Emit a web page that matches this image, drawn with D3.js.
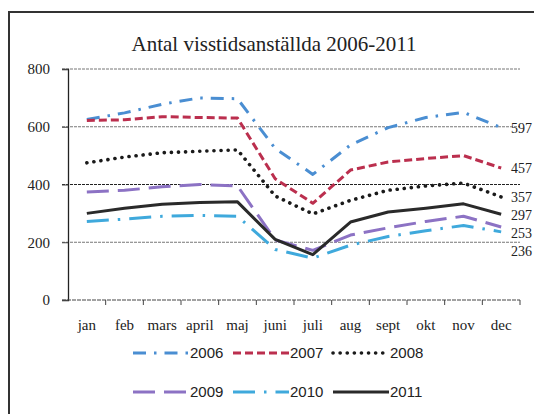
<!DOCTYPE html>
<html>
<head>
<meta charset="utf-8">
<script src="https://cdn.jsdelivr.net/npm/d3@7"></script>
<style>
  body { margin: 0; background: #fff; }
  svg { display: block; }
  .title { font-family: "Liberation Serif", serif; font-size: 21px; fill: #222; }
  .tick-label { font-family: "Liberation Serif", serif; font-size: 15px; fill: #222; }
  .end-label { font-family: "Liberation Serif", serif; font-size: 14px; fill: #222; }
  .legend-text { font-family: "Liberation Sans", sans-serif; font-size: 15px; fill: #222; }
</style>
</head>
<body>
<div id="chart"></div>
<script>
  const months = ["jan", "feb", "mars", "april", "maj", "juni", "juli", "aug", "sept", "okt", "nov", "dec"];
  const years = ["2006", "2007", "2008", "2009", "2010", "2011"];
  const yTicks = [0, 200, 400, 600, 800];

  const v2006 = [625, 648, 678, 700, 697, 525, 435, 537, 597, 632, 650, 597];
  const v2007 = [622, 624, 635, 632, 630, 420, 335, 450, 478, 490, 500, 457];
  const v2008 = [475, 495, 510, 515, 520, 360, 298, 345, 380, 395, 405, 357];
  const v2009 = [374, 380, 392, 400, 395, 208, 172, 225, 250, 272, 290, 253];
  const v2010 = [272, 280, 290, 293, 290, 175, 145, 190, 220, 240, 258, 236];
  const v2011 = [300, 318, 332, 338, 340, 210, 157, 270, 305, 318, 333, 297];

  const seriesValues = [v2006, v2007, v2008, v2009, v2010, v2011];

  const styles = [
    { color: "#4a8ed2", dash: "13,8,2.5,8", width: 3 },
    { color: "#bb2f4e", dash: "8,4", width: 3 },
    { color: "#1a1a1a", dash: "0.1,7", width: 3.6, cap: "round" },
    { color: "#8c72c4", dash: "22,9", width: 3 },
    { color: "#3fa9dc", dash: "22,9,2.5,9", width: 3 },
    { color: "#2a2a2a", dash: null, width: 3 }
  ];

  const W = 534, H = 414;

  const svg = d3.select("#chart")
    .append("svg")
      .attr("width", W)
      .attr("height", H);

  // frame of the scanned chart (right and bottom edges fall outside the picture)
  svg.append("rect")
    .attr("x", 9)
    .attr("y", 12)
    .attr("width", 600)
    .attr("height", 500)
    .attr("fill", "none")
    .attr("stroke", "#333")
    .attr("stroke-width", 2);

  svg.append("text")
    .attr("class", "title")
    .attr("x", 274)
    .attr("y", 51)
    .attr("text-anchor", "middle")
    .text("Antal visstidsanställda 2006-2011");

  const x = d3.scaleBand()
    .domain(months)
    .range([68, 520])
    .paddingInner(0)
    .paddingOuter(0);

  const y = d3.scaleLinear()
    .domain([0, 800])
    .range([300, 69]);

  // gridlines
  svg.append("g")
    .selectAll("line")
    .data(yTicks.filter(d => d > 0))
    .enter().append("line")
      .attr("x1", 62)
      .attr("x2", 520)
      .attr("y1", d => y(d))
      .attr("y2", d => y(d))
      .attr("stroke", d => d === 400 ? "#222" : "#777")
      .attr("stroke-width", 1)
      .attr("stroke-dasharray", "3,1");

  // y axis
  const yAxis = svg.append("g")
    .attr("transform", "translate(68,0)")
    .call(d3.axisLeft(y).tickValues(yTicks).tickSize(6).tickPadding(12));
  yAxis.select(".domain").attr("stroke", "#222").attr("stroke-width", 1.3);
  yAxis.selectAll(".tick line").attr("stroke", "#444");
  yAxis.selectAll(".tick text")
    .attr("class", "tick-label")
    .attr("font-family", null)
    .attr("font-size", null)
    .attr("fill", null);

  // x axis
  const xAxis = svg.append("g")
    .attr("transform", "translate(0,300)")
    .call(d3.axisBottom(x).tickSize(0).tickPadding(19));
  xAxis.select(".domain").remove();
  xAxis.selectAll(".tick text")
    .attr("class", "tick-label")
    .attr("font-family", null)
    .attr("font-size", null)
    .attr("fill", null);

  xAxis.append("line")
    .attr("x1", 62)
    .attr("x2", x.range()[1])
    .attr("stroke", "#444")
    .attr("stroke-width", 1)
    .attr("stroke-dasharray", "4,1");

  xAxis.selectAll(".bound")
    .data(months.slice(1).concat(["end"]))
    .enter().append("line")
      .attr("class", "bound")
      .attr("x1", d => d === "end" ? x.range()[1] : x(d))
      .attr("x2", d => d === "end" ? x.range()[1] : x(d))
      .attr("y1", 0)
      .attr("y2", 5)
      .attr("stroke", "#444");

  const line = d3.line()
    .x((d, i) => x(months[i]) + x.bandwidth() / 2)
    .y(d => y(d));

  svg.append("g")
    .selectAll("path")
    .data(seriesValues)
    .enter().append("path")
      .attr("d", d => line(d))
      .attr("fill", "none")
      .attr("stroke", (d, i) => styles[i].color)
      .attr("stroke-width", (d, i) => styles[i].width)
      .attr("stroke-dasharray", (d, i) => styles[i].dash)
      .attr("stroke-linecap", (d, i) => styles[i].cap || "butt")
      .attr("stroke-linejoin", "round");

  // end labels for the december values, pushed apart so they don't overlap
  const ends = seriesValues.map(v => ({ value: v[v.length - 1], y: y(v[v.length - 1]) }))
    .sort((a, b) => a.y - b.y);
  for (let i = 1; i < ends.length; i++) {
    if (ends[i].y < ends[i - 1].y + 18) ends[i].y = ends[i - 1].y + 18;
  }

  svg.append("g")
    .selectAll("text")
    .data(ends)
    .enter().append("text")
      .attr("class", "end-label")
      .attr("x", 511)
      .attr("y", d => d.y + 5)
      .text(d => d.value);

  // legend
  const legend = svg.append("g");
  const item = legend.selectAll("g")
    .data(years)
    .enter().append("g")
      .attr("transform", (d, i) => `translate(${133 + (i % 3) * 100}, ${i < 3 ? 353 : 392})`);

  item.append("line")
    .attr("x1", 0)
    .attr("x2", 56)
    .attr("stroke", (d, i) => styles[i].color)
    .attr("stroke-width", (d, i) => styles[i].width)
    .attr("stroke-dasharray", (d, i) => styles[i].dash)
    .attr("stroke-linecap", (d, i) => styles[i].cap || "butt");

  item.append("text")
    .attr("class", "legend-text")
    .attr("x", 57)
    .attr("y", 5)
    .text(d => d);
</script>
</body>
</html>
